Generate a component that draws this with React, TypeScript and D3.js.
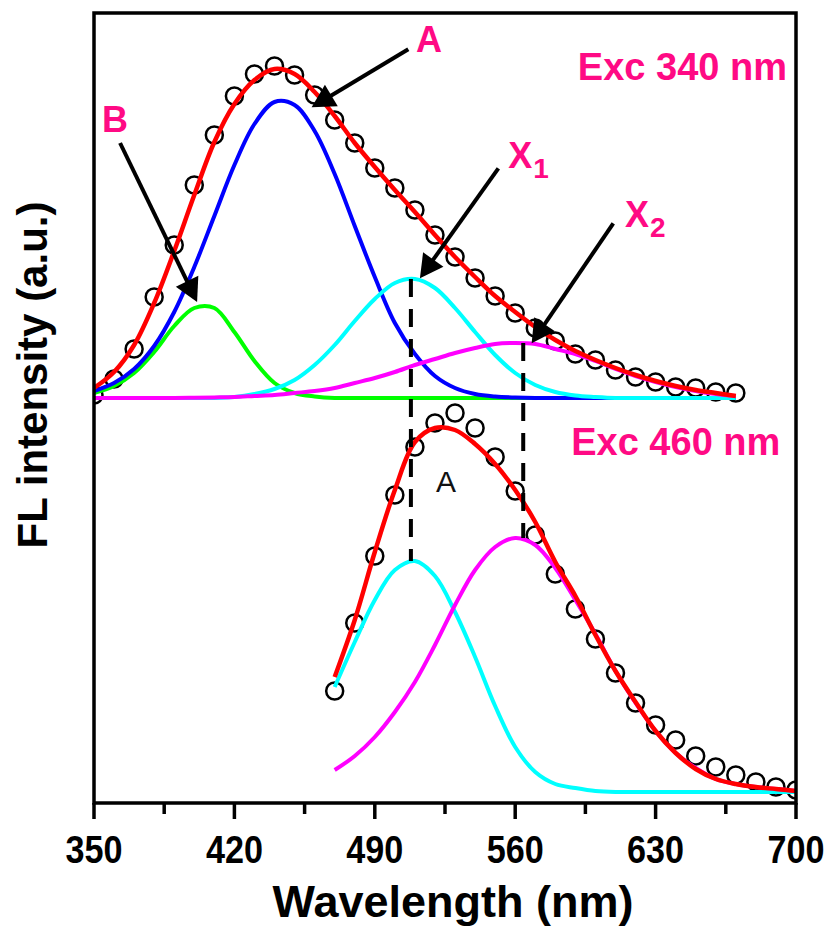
import React from "react";
import * as d3 from "d3";

// Emission spectra (a.u.) sampled every 10 nm
const topWavelength = [
  350, 360, 370, 380, 390, 400, 410, 420, 430, 440, 450, 460, 470, 480, 490, 500, 510,
  520, 530, 540, 550, 560, 570, 580, 590, 600, 610, 620, 630, 640, 650, 660, 670,
];
// Exc 340 nm: measured points, total fit and Gaussian components
const topMeasured = [
  3, 19, 49, 101, 153, 213, 263, 302, 324, 332, 323, 303, 278, 255, 230, 210, 188, 163,
  141, 120, 102, 85, 70, 57, 44, 38, 28, 21, 16, 11, 10, 6, 5,
];
const topFit = [
  10, 26, 53, 95, 147, 203, 256, 294, 318, 329, 324, 306, 282, 255, 231, 208, 186, 163,
  141, 121, 102, 86, 71, 58, 47, 38, 30, 23, 17, 12, 8, 5, 2,
];
const topBandB = [
  5, 12, 25, 46, 72, 90, 90, 66, 37, 15, 5, 1.5, 0, 0, 0, 0, 0, 0, 0, 0, 0, 0, 0, 0, 0, 0,
  0, 0, 0, 0, 0, 0, 0,
];
const topBandA = [
  7, 15, 29, 52, 86, 131, 182, 233, 274, 296, 293, 267, 224, 172, 121, 75, 44, 22, 10, 4,
  1.5, 0.5, 0, 0, 0, 0, 0, 0, 0, 0, 0, 0, 0,
];
const topBandX1 = [
  0, 0, 0, 0, 0, 0, 0, 1, 4, 9, 18, 33, 53, 77, 99, 115, 119, 110, 90, 66, 43, 25, 13, 6,
  2.5, 1, 0, 0, 0, 0, 0, 0, 0,
];
const topBandX2 = [
  0, 0, 0, 0, 0, 0.3, 0.6, 1, 2, 3, 5, 7, 10, 15, 20, 26, 33, 39, 45, 50, 54, 55, 54, 49,
  44, 37, 29, 22, 16, 11, 7, 4, 2,
];

const bottomWavelength = [
  470, 480, 490, 500, 510, 520, 530, 540, 550, 560, 570, 580, 590, 600, 610, 620, 630, 640,
  650, 660, 670, 680, 690, 700,
];
// Exc 460 nm: measured points, total fit and Gaussian components
const bottomMeasured = [
  101, 169, 236, 297, 345, 369, 379, 364, 335, 301, 257, 218, 183, 153, 119, 89, 67, 52,
  36, 25, 17, 10, 5, 2,
];
const bottomFit = [
  115, 172, 240, 302, 350, 364, 362, 348, 328, 302, 270, 230, 196, 157, 121, 90, 61, 39,
  23, 13, 8, 5, 3, 1,
];
const bottomBandX1 = [
  105, 150, 192, 222, 231, 216, 180, 135, 86, 45, 20, 8, 4, 1, 0, 0, 0, 0, 0, 0, 0, 0, 0, 0,
];
const bottomBandX2 = [
  22, 36, 55, 80, 110, 147, 187, 222, 245, 254, 247, 224, 192, 158, 121, 89, 61, 39, 24,
  13, 8, 5, 3, 1,
];

// vertical stacking offsets of the two spectra
const topOffset = 405;
const bottomOffset = 11;

// peak positions of the X1 / X2 bands marked with dashed guides
const peakX1 = 508;
const peakX2 = 564;

const majorTicks = [350, 420, 490, 560, 630, 700];
const minorTicks = [385, 455, 525, 595, 665];

const W = 834;
const H = 931;
const PL = 94;
const PR = 796;
const PT = 13;
const PB = 803;

const FONT = "'Liberation Sans', Arial, Helvetica, sans-serif";
const PINK = "#FF0A84";

export default function App() {
  const x = d3.scaleLinear().domain([350, 700]).range([PL, PR]);
  const y = d3.scaleLinear().domain([0, 790]).range([PB, PT]);

  const path = (wl: number[], vals: number[], off: number) =>
    d3
      .line<number>()
      .x((_, i) => x(wl[i]))
      .y((d) => y(d + off))
      .curve(d3.curveCatmullRom.alpha(0.5))(vals) || "";

  const arrow = (
    from: [number, number],
    to: [number, number],
    key: string
  ) => {
    const x0 = x(from[0]);
    const y0 = y(from[1]);
    const x1 = x(to[0]);
    const y1 = y(to[1]);
    const dx = x1 - x0;
    const dy = y1 - y0;
    const len = Math.hypot(dx, dy);
    const ux = dx / len;
    const uy = dy / len;
    const hl = 23;
    const hw = 12.5;
    const bx = x1 - ux * hl;
    const by = y1 - uy * hl;
    const pts = [
      [x1, y1],
      [bx - uy * hw, by + ux * hw],
      [bx + uy * hw, by - ux * hw],
    ];
    return (
      <g key={key}>
        <line
          x1={x0}
          y1={y0}
          x2={bx + ux * 2}
          y2={by + uy * 2}
          stroke="#000"
          strokeWidth={4}
        />
        <polygon points={pts.map((p) => p.join(",")).join(" ")} fill="#000" />
      </g>
    );
  };

  const topMax = (arr: number[]) => d3.max(arr) as number;

  return (
    <svg
      width={W}
      height={H}
      style={{ position: "absolute", left: 0, top: 0, background: "#fff" }}
      fontFamily={FONT}
    >
      <defs>
        <clipPath id="plot-clip">
          <rect x={PL} y={PT} width={PR - PL} height={PB - PT} />
        </clipPath>
      </defs>
      <rect x={0} y={0} width={W} height={H} fill="#fff" />

      <g clipPath="url(#plot-clip)">
        {/* measured points */}
        {topMeasured.map((v, i) => (
          <circle
            key={`tm${i}`}
            cx={x(topWavelength[i])}
            cy={y(v + topOffset)}
            r={8.5}
            fill="none"
            stroke="#000"
            strokeWidth={2.5}
          />
        ))}
        {bottomMeasured.map((v, i) => (
          <circle
            key={`bm${i}`}
            cx={x(bottomWavelength[i])}
            cy={y(v + bottomOffset)}
            r={8.5}
            fill="none"
            stroke="#000"
            strokeWidth={2.5}
          />
        ))}

        {/* Exc 340 nm components */}
        <path d={path(topWavelength, topBandB, topOffset)} fill="none" stroke="#00FF00" strokeWidth={4} />
        <path d={path(topWavelength, topBandA, topOffset)} fill="none" stroke="#0000FF" strokeWidth={4} />
        <path d={path(topWavelength, topBandX1, topOffset)} fill="none" stroke="#00FFFF" strokeWidth={4} />
        <path d={path(topWavelength, topBandX2, topOffset)} fill="none" stroke="#FF00FF" strokeWidth={4} />
        <path d={path(topWavelength, topFit, topOffset)} fill="none" stroke="#FF0000" strokeWidth={4.5} />

        {/* Exc 460 nm components */}
        <path d={path(bottomWavelength, bottomBandX1, bottomOffset)} fill="none" stroke="#00FFFF" strokeWidth={4} />
        <path d={path(bottomWavelength, bottomBandX2, bottomOffset)} fill="none" stroke="#FF00FF" strokeWidth={4} />
        <path d={path(bottomWavelength, bottomFit, bottomOffset)} fill="none" stroke="#FF0000" strokeWidth={4.5} />
      </g>

      {/* dashed guides linking band peaks of both spectra */}
      <line
        x1={x(peakX1)}
        x2={x(peakX1)}
        y1={y(topMax(topBandX1) + topOffset)}
        y2={y(topMax(bottomBandX1) + bottomOffset)}
        stroke="#000"
        strokeWidth={4}
        strokeDasharray="18,12"
      />
      <line
        x1={x(peakX2)}
        x2={x(peakX2)}
        y1={y(topMax(topBandX2) + topOffset)}
        y2={y(topMax(bottomBandX2) + bottomOffset)}
        stroke="#000"
        strokeWidth={4}
        strokeDasharray="18,12"
      />

      {/* annotation arrows */}
      {arrow([506.7, 753.7], [458.5, 695.7], "a")}
      {arrow([363, 660], [401.4, 501], "b")}
      {arrow([551.6, 634.7], [512.5, 524.7], "x1")}
      {arrow([608.9, 579.7], [568.2, 459.7], "x2")}

      {/* annotation labels */}
      <g fill={PINK} fontWeight="bold">
        <text x={x(517)} y={y(751.3)} fontSize={36} textAnchor="middle">
          A
        </text>
        <text x={x(360.5)} y={y(671)} fontSize={36} textAnchor="middle">
          B
        </text>
        <text x={x(556.5)} y={y(634.7)} fontSize={36}>
          X<tspan fontSize={28} dx={1} dy={10}>1</tspan>
        </text>
        <text x={x(614.7)} y={y(576.3)} fontSize={36}>
          X<tspan fontSize={28} dx={1} dy={10}>2</tspan>
        </text>
        <text x={x(695.5)} y={y(723)} fontSize={38} textAnchor="end">
          Exc 340 nm
        </text>
        <text x={x(692.2)} y={y(348)} fontSize={38} textAnchor="end">
          Exc 460 nm
        </text>
      </g>
      <text x={x(525.5)} y={y(311.3)} fontSize={30} textAnchor="middle" fill="#111">
        A
      </text>

      {/* frame */}
      <rect
        x={PL}
        y={PT}
        width={PR - PL}
        height={PB - PT}
        fill="none"
        stroke="#000"
        strokeWidth={3.5}
      />

      {/* x axis ticks */}
      {majorTicks.map((t) => (
        <line key={`mj${t}`} x1={x(t)} x2={x(t)} y1={PB} y2={PB + 16} stroke="#000" strokeWidth={3.5} />
      ))}
      {minorTicks.map((t) => (
        <line key={`mn${t}`} x1={x(t)} x2={x(t)} y1={PB} y2={PB + 11} stroke="#000" strokeWidth={3.5} />
      ))}
      {majorTicks.map((t) => (
        <text
          key={`tl${t}`}
          x={x(t)}
          y={863}
          fontSize={39}
          fontWeight="bold"
          textAnchor="middle"
          textLength={57}
          lengthAdjust="spacingAndGlyphs"
        >
          {t}
        </text>
      ))}

      {/* axis titles */}
      <text x={453} y={917} fontSize={45} fontWeight="bold" textAnchor="middle">
        Wavelength (nm)
      </text>
      <text
        transform={`translate(47,375) rotate(-90)`}
        fontSize={42}
        fontWeight="bold"
        textAnchor="middle"
      >
        FL intensity (a.u.)
      </text>
    </svg>
  );
}
